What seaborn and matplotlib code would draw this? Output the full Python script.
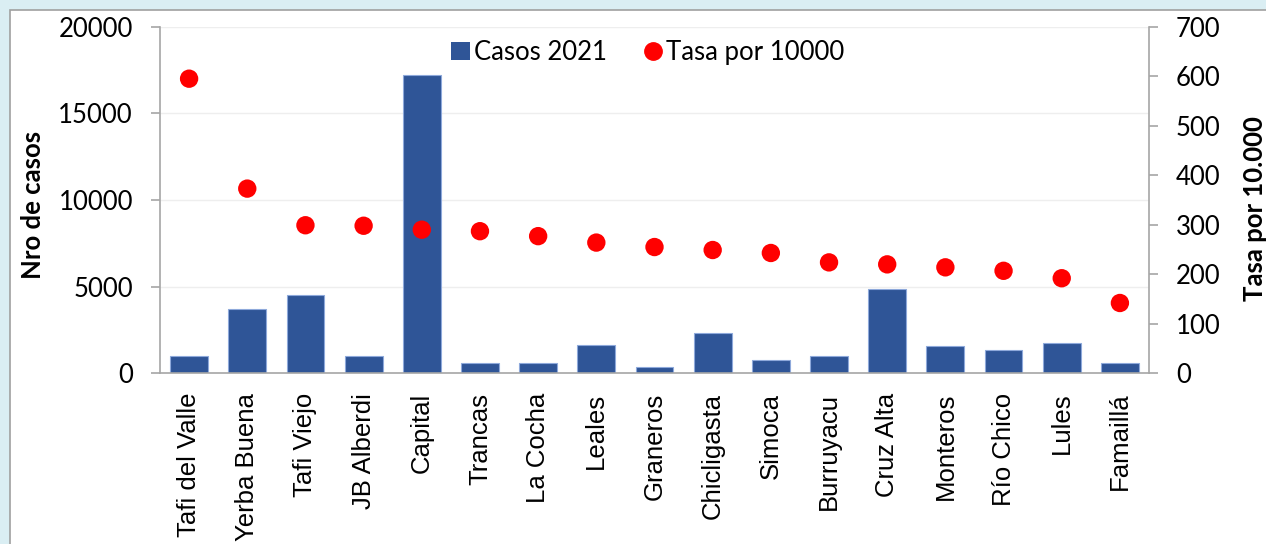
import numpy as np
import pandas as pd
import matplotlib
matplotlib.use("Agg")
import matplotlib.pyplot as plt
import seaborn as sns
from matplotlib.patches import Rectangle, Patch
from matplotlib.lines import Line2D

# data
categorias = ["Tafi del Valle", "Yerba Buena", "Tafi Viejo", "JB Alberdi", "Capital",
              "Trancas", "La Cocha", "Leales", "Graneros", "Chicligasta", "Simoca",
              "Burruyacu", "Cruz Alta", "Monteros", "Río Chico", "Lules", "Famaillá"]
casos_2021 = [1000, 3710, 4540, 1010, 17220, 600, 580, 1660, 350, 2310, 770,
              1000, 4850, 1580, 1350, 1770, 580]
tasa_10000 = [595, 373, 299, 298, 290, 287, 277, 264, 255, 249, 243,
              224, 220, 214, 207, 192, 142]
yticks_casos = [0, 5000, 10000, 15000, 20000]
yticks_tasa = [0, 100, 200, 300, 400, 500, 600, 700]

df = pd.DataFrame({"depto": categorias, "casos": casos_2021, "tasa": tasa_10000})
df["pos"] = np.arange(len(df))

sns.set_style("white")
plt.rcParams["font.family"] = ["Lato", "DejaVu Sans"]
plt.rcParams.update({"text.color": "black", "axes.labelcolor": "black",
                     "xtick.labelcolor": "black", "ytick.labelcolor": "black"})

blue = "#2F5597"
red = "#FF0000"
gray = "#A6A6A6"
W, H = 1266, 544

fig = plt.figure(figsize=(W / 100, H / 100), dpi=100)
fig.patch.set_facecolor("#DAEEF3")
# white chart panel with grey border (slide look)
fig.patches.append(Rectangle((10 / W, -0.1), 1.2, 1.1 - 9.5 / H, transform=fig.transFigure,
                             facecolor="white", edgecolor="#A0A0A0", lw=1.2, zorder=-1))

ax = fig.add_axes([160 / W, 1 - 373.3 / H, (1149 - 160) / W, (373.3 - 26.7) / H])
ax.set_facecolor("none")

sns.barplot(data=df, x="depto", y="casos", color=blue, width=0.65, saturation=1,
            edgecolor="#8EA9DB", linewidth=0.8, errorbar=None, ax=ax)
ax.set_ylim(0, 20000)
ax.set_yticks(yticks_casos)
ax.set_xlim(-0.5, len(df) - 0.5)
ax.yaxis.grid(True, color="#EEEEEE", lw=1)
ax.set_axisbelow(True)

ax2 = ax.twinx()
sns.scatterplot(data=df, x="pos", y="tasa", color=red, s=175, edgecolor="none", ax=ax2)
ax2.set_ylim(0, 700)
ax2.set_yticks(yticks_tasa)
ax2.set_xlim(-0.5, len(df) - 0.5)

for a in (ax, ax2):
    for side in ("top", "left", "right", "bottom"):
        a.spines[side].set_visible(False)
ax.spines["left"].set_visible(True)
ax.spines["bottom"].set_visible(True)
ax2.spines["right"].set_visible(True)
for sp in (ax.spines["left"], ax.spines["bottom"], ax2.spines["right"]):
    sp.set_color(gray)
    sp.set_linewidth(1.2)

# x: labels at centres, ticks between categories
ax.set_xticks(df["pos"])
ax.set_xticklabels(categorias, rotation=90, ha="center", va="top",
                   fontfamily="Liberation Sans", fontsize=18.5, color="black")
ax.set_xticks(np.arange(-0.5, len(df), 1), minor=True)
ax.tick_params(axis="x", which="major", length=0, pad=14)
ax.tick_params(axis="x", which="minor", length=6.5, width=1.2, color=gray, direction="out")
ax.tick_params(axis="y", length=6.5, width=1.2, color=gray, direction="out",
               pad=13, labelsize=18.5, left=True, labelcolor="black")
ax2.tick_params(axis="y", length=6.5, width=1.2, color=gray, direction="out",
                pad=13, labelsize=18.5, right=True, labelcolor="black")
ax.set_xlabel("")

ax.set_ylabel("Nro de casos", fontsize=18.5, fontweight="bold", color="black")
ax.yaxis.set_label_coords(-0.128, 0.486)
ax.yaxis.label.set_va("center")
ax2.set_ylabel("Tasa por 10.000", fontsize=18.5, fontweight="bold", color="black")
ax2.yaxis.set_label_coords(1.107, 0.476)
ax2.yaxis.label.set_va("center")

handles = [Patch(facecolor=blue, edgecolor="none", label="Casos 2021"),
           Line2D([], [], marker="o", ls="", color=red, markersize=12.5, label="Tasa por 10000")]
ax2.legend(handles=handles, loc="center", bbox_to_anchor=(0.493, 0.927), ncol=2,
           frameon=False, fontsize=18.5, handlelength=0.75, handleheight=0.7,
           handletextpad=0.15, columnspacing=1.4, borderpad=0, labelcolor="black")

fig.savefig("out.png", dpi=100, facecolor=fig.get_facecolor())
